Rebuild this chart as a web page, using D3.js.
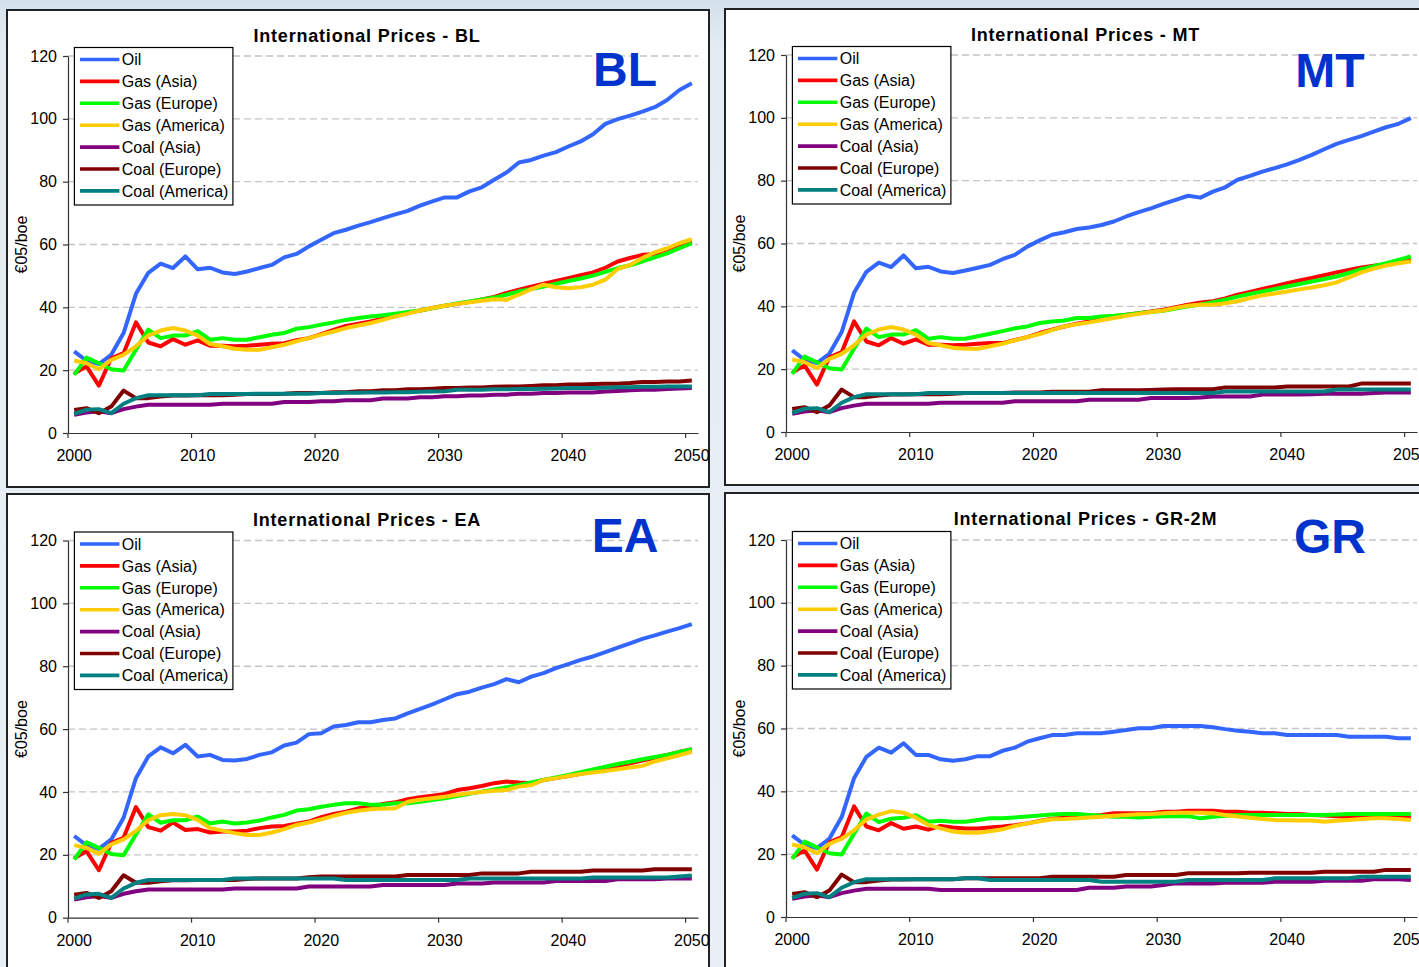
<!DOCTYPE html>
<html><head><meta charset="utf-8">
<script src="https://cdn.jsdelivr.net/npm/d3@7"></script>
<style>
html,body{margin:0;padding:0;overflow:hidden;background:#e6edf4;}
text{font-family:"Liberation Sans",Arial,Helvetica,sans-serif;}
</style></head><body>
<svg id="c" width="1419" height="967"></svg>
<script>
// ---------- categories, labels ----------
const years = d3.range(2000, 2051);
const seriesNames = ["Oil","Gas (Asia)","Gas (Europe)","Gas (America)","Coal (Asia)","Coal (Europe)","Coal (America)"];
const seriesColors = ["#3366FF","#FF0000","#00FF00","#FFCC00","#800080","#800000","#008080"];
const xTickYears = [2000,2010,2020,2030,2040,2050];
const yTicks = [0,20,40,60,80,100,120];
const panelTitles = ["International Prices - BL","International Prices - MT","International Prices - EA","International Prices - GR-2M"];
const panelTags = ["BL","MT","EA","GR"];
const yLabel = "€05/boe";

// ---------- BL ----------
const blOil = [26.0,23.0,21.9,24.9,31.8,44.3,51.0,53.9,52.5,56.2,52.1,52.6,51.1,
  50.6,51.4,52.5,53.5,55.9,57.0,59.4,
  61.5,63.6,64.7,66.0,67.1,68.4,69.6,70.7,72.4,73.7,
  75.0,75.0,76.9,78.2,80.6,82.9,86.1,86.9,88.3,89.4,
  91.2,92.8,95.1,98.4,99.9,101.0,102.3,103.7,106.0,109.2,111.3];
const blGasAsia = [18.9,21.2,15.1,23.8,25.4,35.2,28.8,27.6,29.9,28.1,29.5,27.8,27.8,
  27.6,27.8,28.1,28.4,28.6,29.5,30.2,
  31.5,32.8,34.1,34.8,35.5,36.4,37.3,38.2,39.0,39.8,
  40.5,41.1,41.7,42.5,43.3,44.6,45.6,46.6,47.5,48.4,
  49.3,50.2,51.1,52.6,54.6,55.7,56.7,56.9,58.5,60.0,61.0];
const blGasEurope = [18.5,24.0,22.2,20.3,19.9,26.5,32.9,30.2,31.0,31.0,32.4,29.7,30.2,
  29.7,29.7,30.5,31.3,31.8,33.2,33.7,
  34.5,35.2,36.0,36.6,37.1,37.5,38.0,38.5,39.0,39.7,
  40.5,41.2,41.9,42.5,43.1,44.0,45.1,45.8,46.6,47.5,
  48.4,49.2,50.1,51.3,52.5,53.4,54.6,55.9,57.2,58.8,60.4];
const blGasAmerica = [23.1,22.2,20.3,23.3,24.9,27.6,31.0,32.6,33.4,32.6,31.0,28.3,27.6,
  26.8,26.5,26.5,27.3,28.1,29.2,30.2,
  31.3,32.3,33.4,34.2,35.0,36.0,37.1,38.0,39.0,39.8,
  40.5,41.1,41.6,42.1,42.6,42.4,44.0,45.8,47.2,46.4,
  46.1,46.4,47.2,48.8,52.2,53.5,55.7,57.5,58.8,60.4,61.7];
const blCoalAsia = [5.8,6.5,6.9,6.3,7.6,8.4,9.0,9.0,9.0,9.0,9.0,9.0,9.3,
  9.3,9.3,9.3,9.3,9.9,9.9,9.9,
  10.1,10.1,10.4,10.4,10.4,11.0,11.0,11.0,11.4,11.4,
  11.7,11.7,11.9,11.9,12.2,12.2,12.5,12.5,12.7,12.7,
  12.9,12.9,12.9,13.2,13.4,13.6,13.8,13.8,14.0,14.2,14.3];
const blCoalEurope = [7.3,7.9,6.3,8.4,13.5,11.1,11.1,11.6,11.9,11.9,12.0,12.0,12.0,
  12.2,12.4,12.4,12.4,12.5,12.7,12.7,
  12.7,13.0,13.0,13.3,13.3,13.6,13.6,13.9,13.9,14.1,
  14.3,14.3,14.5,14.5,14.7,14.8,14.8,15.0,15.2,15.2,
  15.4,15.4,15.6,15.7,15.7,15.9,16.2,16.2,16.4,16.4,16.7];
const blCoalAmerica = [6.1,7.4,7.6,6.3,9.3,11.1,12.0,12.0,12.0,12.0,12.0,12.4,12.4,
  12.4,12.4,12.5,12.5,12.5,12.5,12.5,
  12.7,12.7,12.8,12.8,12.9,12.9,13.0,13.0,13.1,13.2,
  13.3,13.8,13.8,13.8,13.9,13.9,14.0,14.0,14.1,14.2,
  14.3,14.3,14.3,14.4,14.6,14.6,14.7,14.7,14.8,14.8,14.8];

// ---------- MT ----------
const mtOil = [26.0,23.0,21.9,24.9,31.8,44.3,51.0,53.9,52.5,56.2,52.1,52.6,51.1,
  50.6,51.4,52.3,53.2,55.0,56.4,59.0,
  61.0,62.8,63.6,64.6,65.1,65.9,67.0,68.6,70.0,71.2,
  72.6,73.9,75.2,74.6,76.5,77.9,80.3,81.5,82.9,84.0,
  85.2,86.6,88.2,90.0,91.7,93.0,94.2,95.6,97.0,98.1,99.9];
const mtGasAsia = [18.9,21.2,15.1,23.8,25.4,35.2,28.8,27.6,29.9,28.1,29.5,27.8,27.8,
  27.6,27.8,28.1,28.3,28.3,29.3,30.2,
  31.5,32.6,33.6,34.5,35.2,35.9,36.8,37.3,37.8,38.4,
  38.9,39.7,40.5,41.2,41.6,42.5,43.7,44.6,45.5,46.4,
  47.4,48.2,49.0,49.9,50.8,51.6,52.4,52.9,53.4,54.0,54.8];
const mtGasEurope = [18.5,24.0,22.2,20.3,19.9,26.5,32.9,30.2,31.0,31.0,32.4,29.7,30.2,
  29.7,29.7,30.5,31.3,32.1,33.0,33.6,
  34.7,35.2,35.5,36.3,36.3,36.8,37.0,37.3,37.8,38.2,
  38.6,39.3,40.0,40.6,41.3,42.1,43.1,43.9,44.7,45.5,
  46.3,47.1,47.9,48.7,49.5,50.6,51.8,52.8,53.7,54.8,55.9];
const mtGasAmerica = [23.1,22.2,20.3,23.3,24.9,27.6,31.0,32.6,33.4,32.6,31.0,28.3,27.6,
  26.8,26.5,26.5,27.3,28.1,29.2,30.2,
  31.2,32.4,33.6,34.3,34.9,35.6,36.3,37.0,37.6,38.2,
  38.7,39.5,40.2,40.5,40.5,41.0,41.6,42.6,43.5,44.1,
  44.7,45.4,46.0,46.7,47.6,49.2,50.8,52.0,53.0,53.7,54.3];
const mtCoalAsia = [5.8,6.5,6.9,6.3,7.6,8.4,9.0,9.0,9.0,9.0,9.0,9.0,9.3,
  9.3,9.3,9.3,9.3,9.3,9.8,9.8,
  9.8,9.8,9.8,9.8,10.3,10.3,10.3,10.3,10.3,10.8,
  10.8,10.8,10.8,11.0,11.3,11.3,11.3,11.3,11.9,11.9,
  11.9,11.9,12.0,12.2,12.2,12.2,12.2,12.4,12.6,12.6,12.6];
const mtCoalEurope = [7.3,7.9,6.3,8.4,13.5,11.1,11.1,11.6,11.9,11.9,12.0,12.0,12.0,
  12.2,12.4,12.4,12.4,12.4,12.6,12.6,
  12.6,12.8,12.8,12.8,12.8,13.3,13.3,13.3,13.3,13.4,
  13.5,13.6,13.6,13.6,13.6,14.2,14.2,14.2,14.2,14.2,
  14.5,14.5,14.5,14.5,14.5,14.5,15.4,15.4,15.4,15.4,15.4];
const mtCoalAmerica = [6.1,7.4,7.6,6.3,9.3,11.1,12.0,12.0,12.0,12.0,12.0,12.4,12.4,
  12.4,12.4,12.4,12.4,12.4,12.4,12.4,
  12.4,12.4,12.4,12.4,12.4,12.4,12.4,12.4,12.4,12.4,
  12.4,12.4,12.4,12.4,12.4,12.9,12.9,12.9,12.9,12.9,
  12.9,12.9,12.9,12.9,13.5,13.5,13.5,13.5,13.5,13.5,13.5];

// ---------- EA ----------
const eaOil = [26.0,23.0,21.9,24.9,31.8,44.4,51.3,54.2,52.3,55.0,51.3,51.8,50.2,
  50.0,50.5,51.8,52.6,54.8,55.7,58.4,
  58.7,60.8,61.3,62.2,62.2,62.9,63.4,65.0,66.4,67.9,
  69.5,71.1,71.9,73.2,74.3,75.9,74.9,76.7,77.8,79.4,
  80.7,82.0,83.1,84.5,85.9,87.3,88.7,89.8,91.0,92.1,93.4];
const eaGasAsia = [18.9,21.2,15.1,23.8,25.4,35.2,28.8,27.7,30.3,27.9,28.2,27.1,27.4,
  27.4,27.7,28.5,29.0,29.2,29.9,30.6,
  32.0,33.0,33.7,34.8,35.3,36.2,36.7,37.7,38.3,38.8,
  39.4,40.6,41.2,41.9,42.8,43.3,43.0,42.8,43.8,44.4,
  45.1,45.8,46.5,47.4,48.3,49.1,50.0,50.9,51.8,52.7,53.6];
const eaGasEurope = [18.5,24.0,22.2,20.3,19.9,26.5,32.9,30.2,31.0,31.0,32.2,30.0,30.6,
  30.0,30.3,30.9,31.9,32.7,34.1,34.5,
  35.3,35.9,36.4,36.4,35.9,35.9,36.4,36.4,36.9,37.4,
  38.0,38.7,39.4,40.1,40.8,41.5,42.2,43.0,43.8,44.6,
  45.4,46.3,47.2,48.0,48.9,49.6,50.4,51.1,51.8,52.7,53.6];
const eaGasAmerica = [23.1,22.2,20.3,23.3,24.9,27.6,31.0,32.6,33.0,32.6,31.1,28.5,27.7,
  26.9,26.3,26.3,27.1,28.2,29.5,30.3,
  31.3,32.4,33.4,34.0,34.5,34.7,34.8,36.9,37.5,38.0,
  38.5,39.1,39.6,40.0,40.4,40.6,41.7,42.2,43.8,44.4,
  45.1,45.7,46.2,46.7,47.2,47.8,48.3,49.7,50.7,51.7,52.8];
const eaCoalAsia = [5.8,6.5,6.9,6.3,7.6,8.4,9.0,9.0,9.0,9.0,9.0,9.0,9.0,
  9.3,9.3,9.3,9.3,9.3,9.3,9.9,
  9.9,9.9,9.9,9.9,9.9,10.4,10.4,10.4,10.4,10.4,
  10.4,10.9,10.9,10.9,11.2,11.2,11.2,11.2,11.2,11.7,
  11.7,11.7,11.7,11.7,12.2,12.2,12.2,12.2,12.5,12.5,12.5];
const eaCoalEurope = [7.3,7.9,6.3,8.4,13.5,11.1,11.1,11.6,11.9,11.9,12.0,12.0,12.0,
  12.0,12.3,12.5,12.5,12.5,12.5,12.9,
  13.1,13.1,13.1,13.1,13.1,13.1,13.1,13.6,13.6,13.6,
  13.6,13.6,13.6,14.1,14.1,14.1,14.1,14.6,14.6,14.6,
  14.6,14.6,15.0,15.0,15.0,15.0,15.0,15.4,15.4,15.4,15.4];
const eaCoalAmerica = [6.1,7.4,7.6,6.3,9.3,11.1,12.0,12.0,12.0,12.0,12.0,12.0,12.0,
  12.5,12.5,12.5,12.5,12.5,12.5,12.5,
  12.5,12.5,12.0,12.0,12.0,12.0,12.0,12.0,12.0,12.0,
  12.0,12.0,12.5,12.5,12.5,12.5,12.5,12.5,12.5,12.5,
  12.5,12.5,12.8,12.8,12.8,12.8,12.8,12.8,12.8,13.1,13.4];

// ---------- GR-2M ----------
const grOil = [26.0,23.0,21.9,24.9,31.8,44.2,51.0,53.9,52.3,55.3,51.6,51.6,50.2,
  49.7,50.2,51.2,51.2,52.9,53.9,55.8,
  56.9,57.9,57.9,58.5,58.5,58.5,59.0,59.5,60.1,60.1,
  60.8,60.8,60.8,60.8,60.4,59.8,59.3,59.0,58.5,58.5,
  57.9,57.9,57.9,57.9,57.9,57.4,57.4,57.4,57.4,56.9,56.9];
const grGasAsia = [18.9,21.2,15.1,23.8,25.4,35.2,28.8,27.6,29.9,28.1,28.8,27.8,29.0,
  28.5,28.2,28.2,28.5,28.8,29.2,29.8,
  30.6,31.3,31.6,31.9,32.1,32.5,33.0,33.0,33.0,33.0,
  33.5,33.5,33.8,33.8,33.8,33.5,33.5,33.2,33.2,33.0,
  32.8,32.8,32.5,32.3,32.1,31.9,31.9,31.9,31.9,31.8,31.7];
const grGasEurope = [18.5,24.0,22.2,20.3,19.9,26.5,32.9,30.2,31.3,31.6,32.4,30.3,30.6,
  30.3,30.3,30.9,31.4,31.4,31.7,32.0,
  32.3,32.6,32.8,32.8,32.5,32.2,31.9,31.9,31.7,31.9,
  32.1,32.1,32.1,31.4,31.9,32.2,32.5,32.5,32.5,32.5,
  32.5,32.5,32.5,32.5,32.6,32.8,32.8,32.8,32.8,32.8,32.8];
const grGasAmerica = [23.1,22.2,20.3,23.3,24.9,27.6,31.0,32.6,33.7,33.2,31.6,29.3,28.2,
  27.2,26.8,26.8,27.3,27.9,29.0,29.8,
  30.5,31.1,31.2,31.4,31.7,31.9,32.2,32.5,32.7,32.8,
  33.0,33.2,33.2,33.2,33.0,32.5,32.0,31.6,31.2,30.9,
  30.8,30.7,30.7,30.3,30.6,30.9,31.2,31.4,31.4,31.2,30.9];
const grCoalAsia = [5.8,6.5,6.9,6.3,7.6,8.4,9.0,9.0,9.0,9.0,9.0,9.0,8.6,
  8.6,8.6,8.6,8.6,8.6,8.6,8.6,
  8.6,8.6,8.6,8.6,9.3,9.3,9.3,9.7,9.7,9.7,
  10.2,10.7,10.7,10.7,10.7,10.9,10.9,10.9,10.9,11.2,
  11.2,11.2,11.2,11.5,11.5,11.5,11.5,12.0,12.0,12.0,11.8];
const grCoalEurope = [7.3,7.9,6.3,8.4,13.5,11.1,11.1,11.6,11.9,11.9,12.0,12.0,12.0,
  12.0,12.3,12.3,12.3,12.3,12.3,12.3,
  12.3,12.8,12.8,12.8,12.8,12.8,12.8,13.4,13.4,13.4,
  13.4,13.4,13.9,13.9,13.9,13.9,13.9,14.1,14.1,14.1,
  14.1,14.1,14.1,14.4,14.4,14.4,14.4,14.4,15.0,15.0,15.0];
const grCoalAmerica = [6.1,7.4,7.6,6.3,9.3,11.1,12.0,12.0,12.0,12.0,12.0,12.0,12.0,
  12.0,12.3,12.3,11.8,11.8,11.8,11.8,
  11.8,11.8,11.8,11.8,11.8,11.2,11.2,11.2,11.2,11.2,
  11.2,11.2,11.8,11.8,11.8,11.8,11.8,11.8,11.8,12.3,
  12.3,12.3,12.3,12.3,12.3,12.3,12.8,12.8,12.8,12.8,12.8];

const panelSeries = [
  [blOil,blGasAsia,blGasEurope,blGasAmerica,blCoalAsia,blCoalEurope,blCoalAmerica],
  [mtOil,mtGasAsia,mtGasEurope,mtGasAmerica,mtCoalAsia,mtCoalEurope,mtCoalAmerica],
  [eaOil,eaGasAsia,eaGasEurope,eaGasAmerica,eaCoalAsia,eaCoalEurope,eaCoalAmerica],
  [grOil,grGasAsia,grGasEurope,grGasAmerica,grCoalAsia,grCoalEurope,grCoalAmerica]
];

// ---------- layout ----------
const layouts = [
  {fx:7,   fy:10,  fw:702, fh:477, px0:68,  px1:698,  py120:56,  py0:433, tagX:625,  tagY:86},
  {fx:725, fy:9,   fw:702, fh:476, px0:786, px1:1417, py120:55,  py0:432, tagX:1330, tagY:87},
  {fx:7,   fy:494, fw:702, fh:490, px0:68,  px1:698,  py120:540.5,py0:917.7,tagX:625, tagY:552},
  {fx:725, fy:493, fw:702, fh:490, px0:786, px1:1417, py120:540, py0:917, tagX:1330, tagY:553}
];

const svg = d3.select("#c");
const defs = svg.append("defs");
const bg = defs.append("linearGradient").attr("id","bg").attr("x1","0").attr("y1","0").attr("x2","0").attr("y2","1");
bg.append("stop").attr("offset","0").attr("stop-color","#d3e0eb");
bg.append("stop").attr("offset","0.05").attr("stop-color","#e4ecf3");
bg.append("stop").attr("offset","1").attr("stop-color","#e9eff5");
svg.append("rect").attr("width",1419).attr("height",967).attr("fill","url(#bg)");

layouts.forEach((L, p) => {
  const g = svg.append("g");
  g.append("rect").attr("x",L.fx).attr("y",L.fy).attr("width",L.fw).attr("height",L.fh)
    .attr("fill","#fff").attr("stroke","#222").attr("stroke-width",2);

  const x = d3.scaleBand().domain(years).range([L.px0, L.px1]).padding(0);
  const y = d3.scaleLinear().domain([0,120]).range([L.py0, L.py120]);
  const cx = d => x(d) + x.bandwidth()/2;

  // gridlines
  g.append("g").selectAll("line").data(yTicks.filter(t => t > 0)).join("line")
    .attr("x1", L.px0).attr("x2", L.px1).attr("y1", d => y(d)).attr("y2", d => y(d))
    .attr("stroke","#c4c4c4").attr("stroke-width",1.3).attr("stroke-dasharray","7,4");

  // y axis
  const ya = g.append("g").attr("transform",`translate(${L.px0},0)`)
    .call(d3.axisLeft(y).tickValues(yTicks).tickSize(5).tickPadding(6).tickSizeOuter(0));
  ya.selectAll("text").attr("font-size",16).attr("fill","#000");
  ya.selectAll("line,path").attr("stroke","#333").attr("stroke-width",1.2);

  // x axis (labels at category centres, ticks at category boundaries)
  const xa = g.append("g").attr("transform",`translate(0,${L.py0})`)
    .call(d3.axisBottom(x).tickValues(xTickYears).tickSize(0).tickPadding(17).tickSizeOuter(0));
  xa.selectAll("text").attr("font-size",16).attr("fill","#000");
  xa.select("path").attr("stroke","#333").attr("stroke-width",1.2);
  g.append("g").selectAll("line").data(xTickYears).join("line")
    .attr("x1", d => x(d)).attr("x2", d => x(d)).attr("y1", L.py0).attr("y2", L.py0 + 5)
    .attr("stroke","#333").attr("stroke-width",1.2);

  // y label
  g.append("text").attr("transform",`translate(${L.px0 - 47},${(L.py0 + L.py120)/2}) rotate(-90)`)
    .attr("text-anchor","middle").attr("dy","0.35em").attr("font-size",16).text(yLabel);

  // series lines
  const line = d3.line().x((d,i) => cx(years[i])).y(d => y(d));
  panelSeries[p].forEach((vals, s) => {
    g.append("path").datum(vals).attr("d", line).attr("fill","none")
      .attr("stroke", seriesColors[s]).attr("stroke-width",4)
      .attr("stroke-linejoin","round").attr("stroke-linecap","butt");
  });

  // title
  g.append("text").attr("x", (L.px0 + L.px1)/2 - 16).attr("y", L.fy + 31.5)
    .attr("text-anchor","middle").attr("font-size",18).attr("font-weight","bold")
    .attr("letter-spacing","0.8px").text(panelTitles[p]);

  // big tag
  g.append("text").attr("x", L.tagX).attr("y", L.tagY).attr("text-anchor","middle")
    .attr("font-size",48).attr("font-weight","bold").attr("fill","#0033CC").text(panelTags[p]);

  // legend
  const lx = L.px0 + 6.4, ly = y(120) - 8.5, lw = 158.5, lh = 157.5;
  const lg = g.append("g");
  lg.append("rect").attr("x",lx).attr("y",ly).attr("width",lw).attr("height",lh)
    .attr("fill","#fff").attr("stroke","#000").attr("stroke-width",1.2);
  seriesNames.forEach((nm, s) => {
    const ry = ly + 12 + s*21.9;
    lg.append("line").attr("x1",lx+5.6).attr("x2",lx+45).attr("y1",ry).attr("y2",ry)
      .attr("stroke",seriesColors[s]).attr("stroke-width",3.6);
    lg.append("text").attr("x",lx+47.3).attr("y",ry).attr("dy","0.36em")
      .attr("font-size",16).text(nm);
  });
});
</script>
</body></html>
